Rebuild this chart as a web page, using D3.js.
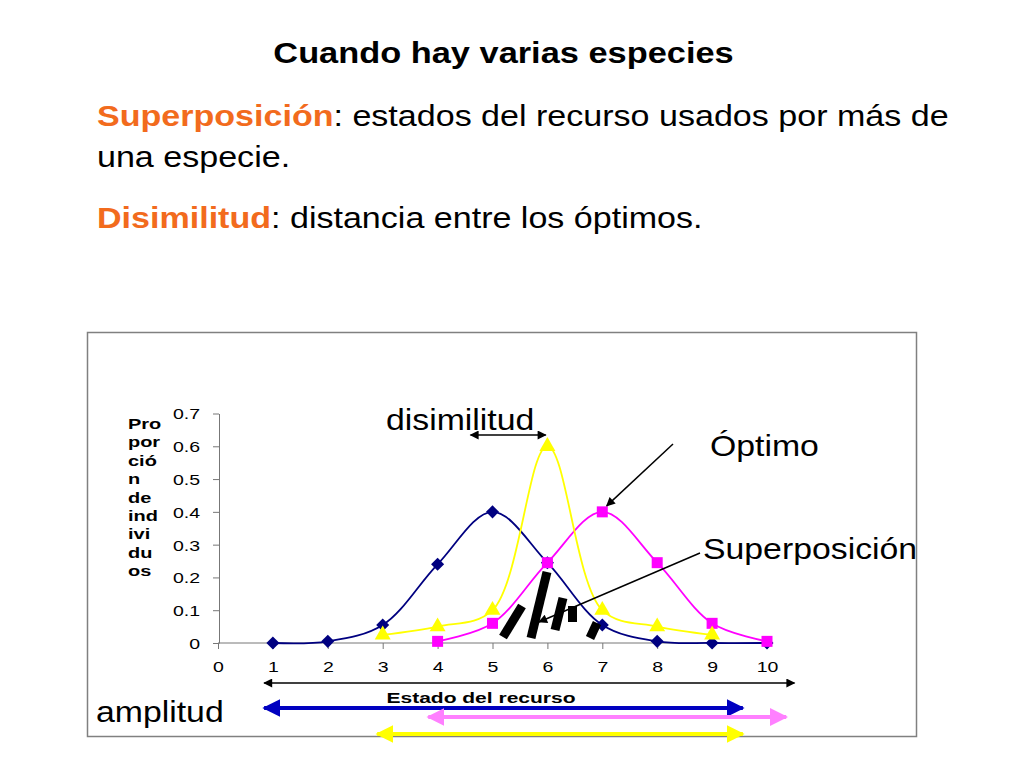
<!DOCTYPE html>
<html>
<head>
<meta charset="utf-8">
<script src="https://cdn.jsdelivr.net/npm/d3@7/dist/d3.min.js"></script>
<style>
  html, body { margin: 0; padding: 0; background: #fff; }
  svg { display: block; }
</style>
</head>
<body>
<script>
// ---- data ----
const xTicks = [0,1,2,3,4,5,6,7,8,9,10];
const yTicks = [0,0.1,0.2,0.3,0.4,0.5,0.6,0.7];
const blueX = [1,2,3,4,5,6,7,8,9,10];
const blueY = [0,0.005,0.055,0.24,0.40,0.245,0.055,0.005,0,0];
const yellowX = [3,4,5,6,7,8,9];
const yellowY = [0.025,0.05,0.10,0.60,0.10,0.05,0.025];
const pinkX = [4,5,6,7,8,9,10];
const pinkY = [0.005,0.06,0.245,0.40,0.245,0.06,0.005];
const yTitleLines = ["Pro","por","ció","n","de","ind","ivi","du","os"];
const xTitle = "Estado del recurso";

const W = 1024, H = 768;
const svg = d3.select("body").append("svg").attr("width", W).attr("height", H);
const FONT = "'Liberation Sans', Arial, Helvetica, sans-serif";
const ORANGE = "#F26B1D";

// horizontal stretch helper (reference text is wider than the font's natural width)
function stretch(sel, f) {
  sel.each(function() {
    const len = this.getComputedTextLength();
    if (len > 0) d3.select(this).attr("textLength", len * f).attr("lengthAdjust", "spacingAndGlyphs");
  });
}

// ---- header text ----
const title = svg.append("text").attr("x", 503.5).attr("y", 63).attr("text-anchor", "middle")
  .attr("font-family", FONT).attr("font-weight", "bold").attr("font-size", 29)
  .text("Cuando hay varias especies");
stretch(title, 1.185);

function mixedLine(y, parts) {
  const t = svg.append("text").attr("x", 97).attr("y", y)
    .attr("font-family", FONT).attr("font-size", 30);
  parts.forEach(p => {
    t.append("tspan").attr("fill", p.c || "#000")
      .attr("font-weight", p.b ? "bold" : "normal").text(p.t);
  });
  stretch(t, 1.135);
}
mixedLine(126, [{t:"Superposición", c:ORANGE, b:true}, {t:": estados del recurso usados por más de"}]);
mixedLine(167, [{t:"una especie."}]);
mixedLine(228, [{t:"Disimilitud", c:ORANGE, b:true}, {t:": distancia entre los óptimos."}]);

// ---- frame ----
svg.append("rect").attr("x", 87.5).attr("y", 332.5).attr("width", 829).attr("height", 404)
  .attr("fill", "none").attr("stroke", "#808080").attr("stroke-width", 1.5);

// ---- scales ----
const x = d3.scaleLinear().domain([0,10]).range([218, 767]);
const y = d3.scaleLinear().domain([0,0.7]).range([643, 413.5]);

// axes
const yAxis = d3.axisLeft(y).tickValues(yTicks).tickSize(6).tickSizeOuter(0)
  .tickFormat(d => d === 0 ? "0" : d3.format(".1f")(d));
const gy = svg.append("g").attr("transform", `translate(${x(0)+1},0)`).call(yAxis);
gy.selectAll("text").attr("font-family", FONT).attr("font-size", 15).attr("fill", "#000")
  .attr("x", -19).attr("dy", "0.36em");
stretch(gy.selectAll("text"), 1.3);
gy.selectAll("line, path").attr("stroke", "#777");

const xAxis = d3.axisBottom(x).tickValues(xTicks).tickSize(6).tickSizeOuter(0);
const gx = svg.append("g").attr("transform", `translate(0,${y(0)})`).call(xAxis);
gx.selectAll("text").attr("font-family", FONT).attr("font-size", 15).attr("fill", "#000")
  .attr("y", 29).attr("dy", 0);
stretch(gx.selectAll("text"), 1.3);
gx.selectAll("line, path").attr("stroke", "#777");
gx.select("path.domain").attr("d", `M${x(0)},0H${x(10.1)}`);

// y title
const yt = svg.append("g").selectAll("text").data(yTitleLines).join("text")
  .attr("x", 128).attr("y", (d,i) => 429 + i*18.4)
  .attr("font-family", FONT).attr("font-weight", "bold").attr("font-size", 15)
  .text(d => d);
stretch(yt, 1.33);

// x title
const xt = svg.append("text").attr("x", 481).attr("y", 703).attr("text-anchor", "middle")
  .attr("font-family", FONT).attr("font-weight", "bold").attr("font-size", 15)
  .text(xTitle);
stretch(xt, 1.4);

// ---- series ----
const line = d3.line().x(d => x(d[0])).y(d => y(d[1])).curve(d3.curveCatmullRom.alpha(0.5));
function series(xs, ys, color, sym, size, rot) {
  const pts = xs.map((v,i) => [v, ys[i]]);
  svg.append("path").datum(pts).attr("d", line).attr("fill", "none")
    .attr("stroke", color).attr("stroke-width", 1.8);
  svg.append("g").selectAll("path").data(pts).join("path")
    .attr("d", d3.symbol().type(sym).size(size))
    .attr("transform", d => `translate(${x(d[0])},${y(d[1])}) rotate(${rot})`)
    .attr("fill", color);
}
series(blueX, blueY, "#000080", d3.symbolSquare, 85, 45);
series(pinkX, pinkY, "#FF00FF", d3.symbolSquare, 121, 0);
series(yellowX, yellowY, "#FFFF00", d3.symbolTriangle, 110, 0);

// ---- defs for arrowheads ----
const defs = svg.append("defs");
function marker(id, color, w, h) {
  defs.append("marker").attr("id", id).attr("viewBox", "0 0 10 10")
    .attr("refX", 9).attr("refY", 5).attr("markerWidth", w).attr("markerHeight", h)
    .attr("markerUnits", "userSpaceOnUse").attr("orient", "auto-start-reverse")
    .append("path").attr("d", "M0,0L10,5L0,10z").attr("fill", color);
}
marker("aBlack", "#000", 12, 9);
marker("aBlue", "#0000C0", 18, 18);
marker("aPink", "#FF80FF", 18, 18);
marker("aYellow", "#FFFF00", 18, 18);

function hArrow(x1, x2, yy, color, sw, m) {
  svg.append("line").attr("x1", x(x1)).attr("x2", x(x2)).attr("y1", yy).attr("y2", yy)
    .attr("stroke", color).attr("stroke-width", sw)
    .attr("marker-start", `url(#${m})`).attr("marker-end", `url(#${m})`);
}
// amplitude arrows
hArrow(0.84, 10.5, 683, "#000", 1.5, "aBlack");
hArrow(0.84, 9.56, 708, "#0000C0", 4, "aBlue");
hArrow(3.83, 10.35, 717, "#FF80FF", 4, "aPink");
hArrow(2.9, 9.56, 734, "#FFFF00", 4, "aYellow");

// disimilitud arrow
svg.append("line").attr("x1", x(4.6)).attr("x2", x(5.97)).attr("y1", 435).attr("y2", 435)
  .attr("stroke", "#000").attr("stroke-width", 1.5)
  .attr("marker-start", "url(#aBlack)").attr("marker-end", "url(#aBlack)");

// Óptimo arrow
svg.append("line").attr("x1", 673).attr("y1", 444).attr("x2", x(7.08)).attr("y2", y(0.40) - 6)
  .attr("stroke", "#000").attr("stroke-width", 1.5).attr("marker-end", "url(#aBlack)");

// overlap hatching (thick black bars)
const bars = [
  [[522,606],[503,637]],
  [[547,572],[531,638]],
  [[563,598],[555,630]],
  [[572.5,606],[572.5,622]],
  [[597,623],[590,638]]
];
svg.append("g").selectAll("line").data(bars).join("line")
  .attr("x1", d => d[0][0]).attr("y1", d => d[0][1])
  .attr("x2", d => d[1][0]).attr("y2", d => d[1][1])
  .attr("stroke", "#000").attr("stroke-width", 9);

// Superposición arrow
svg.append("line").attr("x1", 700).attr("y1", 553).attr("x2", 539).attr("y2", 622)
  .attr("stroke", "#000").attr("stroke-width", 1.5).attr("marker-end", "url(#aBlack)");

// labels
function label(t, xx, yy) {
  const l = svg.append("text").attr("x", xx).attr("y", yy).attr("font-family", FONT)
    .attr("font-size", 29).attr("fill", "#000").text(t);
  stretch(l, 1.165);
}
label("disimilitud", 386, 430);
label("Óptimo", 710, 456);
label("Superposición", 703, 559);
label("amplitud", 96, 722);
</script>
</body>
</html>
